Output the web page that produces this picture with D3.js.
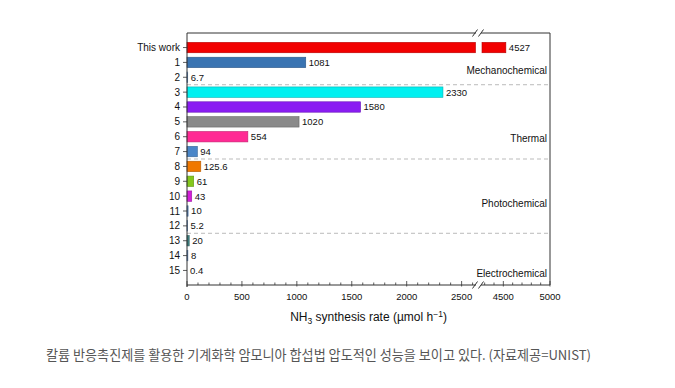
<!DOCTYPE html>
<html>
<head>
<meta charset="utf-8">
<script src="https://cdn.jsdelivr.net/npm/d3@7"></script>
<style>
  body { margin: 0; background: #fff; }
  svg text { font-family: "Liberation Sans", Arial, sans-serif; }
</style>
</head>
<body>
<script>
// data
const categories = ["This work", "1", "2", "3", "4", "5", "6", "7", "8", "9", "10", "11", "12", "13", "14", "15"];
const rates = [4527, 1081, 6.7, 2330, 1580, 1020, 554, 94, 125.6, 61, 43, 10, 5.2, 20, 8, 0.4];
const rateLabels = ["4527", "1081", "6.7", "2330", "1580", "1020", "554", "94", "125.6", "61", "43", "10", "5.2", "20", "8", "0.4"];
const barColors = ["#f20000", "#3a74b2", "#5b8ccc", "#00f0f0", "#8a1cf2", "#8a8a8a", "#ff2a94", "#4a86c8", "#f07800", "#84c81c", "#d21ed8", "#5b8ccc", "#5b8ccc", "#3f8080", "#5b8ccc", "#5b8ccc"];
const groups = ["Mechanochemical", "Thermal", "Photochemical", "Electrochemical"];
const groupEnds = ["2", "7", "12", "15"]; // last category of each group
const leftTicks = [0, 500, 1000, 1500, 2000, 2500];
const rightTicks = [4500, 5000];
const leftDomain = [0, 2640];
const rightDomain = [4250, 5000];

width = 675;
height = 388;
plot_left = 187;
plot_right = 550;
plot_top = 33;
plot_bottom = 285;
break_left = 477;
break_right = 480;
frame_color = "#333";
// where each group label sits, in rows (index into categories, fractional ok)
group_label_rows = [1.55, 6.1, 10.5, 15.2];

const svg = d3.select("body").append("svg")
  .attr("width", width).attr("height", height);

xL = d3.scaleLinear().domain(leftDomain).range([plot_left, break_left]);
xR = d3.scaleLinear().domain(rightDomain).range([break_right, plot_right]);
y = d3.scaleBand().domain(categories).range([plot_top, plot_bottom])
  .paddingInner(0.3).paddingOuter(0.63);

// dashed group separators
const sep = svg.append("g").attr("class", "separators");
groupEnds.slice(0, 3).forEach(function (c) {
  var yy = y(c) + y.bandwidth() + y.step() * y.paddingInner() / 2;
  sep.append("line")
    .attr("x1", plot_left).attr("x2", plot_right)
    .attr("y1", yy).attr("y2", yy)
    .attr("stroke", "#aaa").attr("stroke-dasharray", "4,3").attr("stroke-width", 0.8);
});

// bars
const bars = svg.append("g").attr("class", "bars");
categories.forEach(function (c, i) {
  var v = rates[i];
  var col = d3.color(barColors[i]);
  var stroke = col.darker(0.8);
  var yy = y(c), h = y.bandwidth();
  if (v <= leftDomain[1]) {
    var w = xL(v) - xL(0);
    if (w > 0.5) {
      bars.append("rect")
        .attr("x", xL(0)).attr("y", yy).attr("width", w).attr("height", h)
        .attr("fill", col).attr("stroke", stroke).attr("stroke-width", 0.6);
    }
    svg.append("text")
      .attr("x", xL(v) + 3).attr("y", yy + h / 2 + 3.4)
      .attr("font-size", 9.5).attr("fill", "#111")
      .text(rateLabels[i]);
  } else {
    // broken bar: left part up to the break, right part after it
    bars.append("rect")
      .attr("x", xL(0)).attr("y", yy).attr("width", break_left - 1.5 - xL(0)).attr("height", h)
      .attr("fill", col).attr("stroke", stroke).attr("stroke-width", 0.6);
    bars.append("rect")
      .attr("x", break_right + 2).attr("y", yy).attr("width", xR(v) - break_right - 2).attr("height", h)
      .attr("fill", col).attr("stroke", stroke).attr("stroke-width", 0.6);
    svg.append("text")
      .attr("x", xR(v) + 3).attr("y", yy + h / 2 + 3.4)
      .attr("font-size", 9.5).attr("fill", "#111")
      .text(rateLabels[i]);
  }
});

// frame (broken at the axis break)
const frame = svg.append("g").attr("class", "frame")
  .attr("stroke", frame_color).attr("stroke-width", 1).attr("fill", "none");
[plot_top, plot_bottom].forEach(function (yy) {
  frame.append("line").attr("x1", plot_left).attr("x2", break_left - 1).attr("y1", yy).attr("y2", yy);
  frame.append("line").attr("x1", break_right + 1).attr("x2", plot_right).attr("y1", yy).attr("y2", yy);
  // break marks
  [break_left - 2, break_right + 1].forEach(function (bx) {
    frame.append("line")
      .attr("x1", bx - 2.5).attr("y1", yy + 3.5)
      .attr("x2", bx + 2.5).attr("y2", yy - 3.5);
  });
});
frame.append("line").attr("x1", plot_left).attr("x2", plot_left).attr("y1", plot_top).attr("y2", plot_bottom + 2);
frame.append("line").attr("x1", plot_right).attr("x2", plot_right).attr("y1", plot_top).attr("y2", plot_bottom);

// x axis ticks
const xaxis = svg.append("g").attr("class", "x-axis");
function drawTicks(scale, domain, majors) {
  d3.range(Math.ceil(domain[0] / 100) * 100, domain[1] + 1, 100).forEach(function (t) {
    var major = majors.indexOf(t) >= 0;
    xaxis.append("line")
      .attr("x1", scale(t)).attr("x2", scale(t))
      .attr("y1", plot_bottom - (major ? 4 : 2.5)).attr("y2", plot_bottom + (major ? 1.5 : 0))
      .attr("stroke", frame_color).attr("stroke-width", 0.8);
  });
  majors.forEach(function (t) {
    xaxis.append("text")
      .attr("x", scale(t)).attr("y", plot_bottom + 14.5)
      .attr("text-anchor", "middle").attr("font-size", 9.5).attr("fill", "#111")
      .text(t);
  });
}
drawTicks(xL, leftDomain, leftTicks);
drawTicks(xR, rightDomain, rightTicks);

// y axis
const yaxis = svg.append("g").attr("class", "y-axis");
categories.forEach(function (c) {
  var yy = y(c) + y.bandwidth() / 2;
  yaxis.append("line")
    .attr("x1", plot_left - 4).attr("x2", plot_left)
    .attr("y1", yy).attr("y2", yy)
    .attr("stroke", frame_color).attr("stroke-width", 0.8);
  yaxis.append("text")
    .attr("x", plot_left - 7).attr("y", yy + 3.5)
    .attr("text-anchor", "end").attr("font-size", 10).attr("fill", "#111")
    .text(c);
});

// group labels
groups.forEach(function (g, i) {
  var r = group_label_rows[i];
  var yy = y.range()[0] + y.step() * (y.paddingOuter() + r) + y.bandwidth() / 2 + 3.5;
  svg.append("text")
    .attr("x", plot_right - 3).attr("y", yy)
    .attr("text-anchor", "end").attr("font-size", 10).attr("fill", "#111")
    .text(g);
});

// x axis title
const title = svg.append("text")
  .attr("x", (plot_left + plot_right) / 2).attr("y", 321)
  .attr("text-anchor", "middle").attr("font-size", 12).attr("fill", "#111");
title.append("tspan").text("NH");
title.append("tspan").attr("font-size", 8.5).attr("dy", 3).text("3");
title.append("tspan").attr("dy", -3).text(" synthesis rate (\u00b5mol h");
title.append("tspan").attr("font-size", 8.5).attr("dy", -4.5).text("\u22121");
title.append("tspan").attr("dy", 4.5).text(")");

// caption
svg.append("text")
  .attr("x", 46).attr("y", 360)
  .attr("font-size", 13.1).attr("fill", "#555")
  .style("font-family", '"Noto Sans CJK KR", "Noto Sans", sans-serif')
  .text("칼륨 반응촉진제를 활용한 기계화학 암모니아 합섭법 압도적인 성능을 보이고 있다. (자료제공=UNIST)");
</script>
</body>
</html>
